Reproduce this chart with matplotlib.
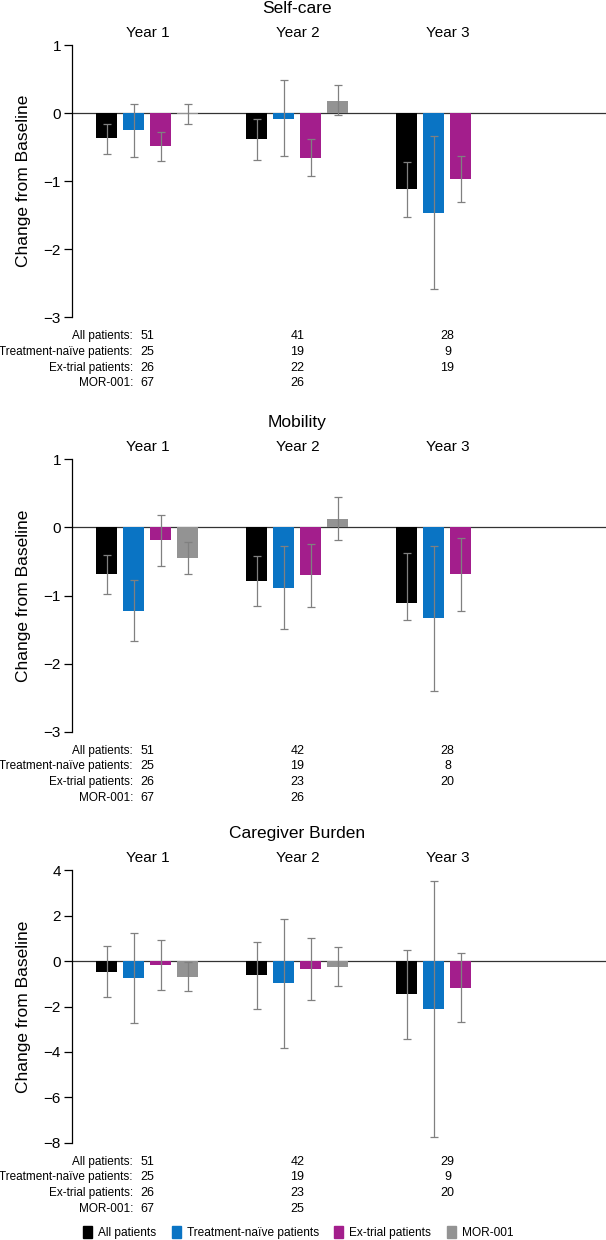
import numpy as np
import matplotlib
matplotlib.use("Agg")
import matplotlib.pyplot as plt
from matplotlib.patches import Patch

plt.rcParams["font.family"] = ["Liberation Sans", "DejaVu Sans"]

years = ["Year 1", "Year 2", "Year 3"]
series = ["All patients", "Treatment-naïve patients", "Ex-trial patients", "MOR-001"]
colors = ["#000000", "#0A74C4", "#A31E8C", "#939393"]
nan = np.nan

# self-care: mean change and CI per series (rows) x year (cols)
selfcare_mean = [[-0.37, -0.38, -1.12], [-0.25, -0.08, -1.47], [-0.49, -0.66, -0.97], [-0.01, 0.18, nan]]
selfcare_lo = [[-0.60, -0.69, -1.53], [-0.65, -0.63, -2.58], [-0.70, -0.92, -1.30], [-0.16, -0.03, nan]]
selfcare_hi = [[-0.16, -0.09, -0.72], [0.13, 0.48, -0.34], [-0.28, -0.38, -0.63], [0.14, 0.41, nan]]
selfcare_n = [[51, 41, 28], [25, 19, 9], [26, 22, 19], [67, 26, None]]

# mobility
mobility_mean = [[-0.69, -0.78, -1.11], [-1.22, -0.89, -1.33], [-0.18, -0.70, -0.69], [-0.45, 0.13, nan]]
mobility_lo = [[-0.98, -1.16, -1.36], [-1.67, -1.49, -2.40], [-0.56, -1.17, -1.23], [-0.69, -0.19, nan]]
mobility_hi = [[-0.40, -0.42, -0.38], [-0.77, -0.27, -0.27], [0.19, -0.24, -0.15], [-0.22, 0.45, nan]]
mobility_n = [[51, 42, 28], [25, 19, 8], [26, 23, 20], [67, 26, None]]

# caregiver burden
burden_mean = [[-0.47, -0.62, -1.46], [-0.74, -0.97, -2.10], [-0.18, -0.34, -1.19], [-0.69, -0.25, nan]]
burden_lo = [[-1.59, -2.10, -3.43], [-2.74, -3.84, -7.74], [-1.29, -1.71, -2.69], [-1.31, -1.10, nan]]
burden_hi = [[0.65, 0.84, 0.49], [1.25, 1.85, 3.53], [0.94, 1.03, 0.34], [-0.03, 0.62, nan]]
burden_n = [[51, 42, 29], [25, 19, 9], [26, 23, 20], [67, 25, None]]

panels = [
    ("Self-care", selfcare_mean, selfcare_lo, selfcare_hi, selfcare_n, [1, 0, -1, -2, -3]),
    ("Mobility", mobility_mean, mobility_lo, mobility_hi, mobility_n, [1, 0, -1, -2, -3]),
    ("Caregiver Burden", burden_mean, burden_lo, burden_hi, burden_n, [4, 2, 0, -2, -4, -6, -8]),
]

fig = plt.figure(figsize=(6.06, 12.4), dpi=100)
bottoms = [0.7441, 0.4099, 0.0785]
x = np.arange(len(years))
offsets = [-0.27, -0.09, 0.09, 0.27]
width = 0.14

for (title, mean, lo, hi, counts, yt), b in zip(panels, bottoms):
    ax = fig.add_axes([0.1188, b, 0.8812, 0.2196])
    for i in range(len(series)):
        m = np.array(mean[i], dtype=float)
        err = np.array([m - np.array(lo[i]), np.array(hi[i]) - m])
        ax.bar(x + offsets[i], m, width, color=colors[i], zorder=2)
        ax.errorbar(x + offsets[i], m, yerr=err, fmt="none", ecolor="#808080",
                    elinewidth=0.9, capsize=3, capthick=0.9, zorder=3)
    ax.axhline(0, color="#333333", lw=0.9, zorder=1)
    ax.set_xlim(-0.503, 3.057)
    ax.set_ylim(yt[-1], yt[0])
    ax.set_yticks(yt)
    ax.set_xticks([])
    for s in ["top", "right", "bottom"]:
        ax.spines[s].set_visible(False)
    ax.spines["left"].set_linewidth(0.9)
    ax.tick_params(axis="y", labelsize=11, length=6, width=0.9, pad=2)
    ax.set_ylabel("Change from Baseline", fontsize=12.5, va="center")
    ax.yaxis.set_label_coords(-0.09, 0.5)

    ax.annotate(title, xy=(1, 1), xycoords=("data", "axes fraction"),
                xytext=(0, 37), textcoords="offset pixels",
                ha="center", va="center", fontsize=12.5)
    for j, yr in enumerate(years):
        ax.annotate(yr, xy=(j, 1), xycoords=("data", "axes fraction"),
                    xytext=(0, 12), textcoords="offset pixels",
                    ha="center", va="center", fontsize=11)

    # patient counts under the axis
    for i, name in enumerate(series):
        dy = -19 - 15.7 * i
        ax.annotate(name + ":", xy=(-0.097, 0), xycoords=("data", "axes fraction"),
                    xytext=(0, dy), textcoords="offset pixels",
                    ha="right", va="center", fontsize=8.5, annotation_clip=False)
        for j in range(len(years)):
            n = counts[i][j]
            if n is None:
                continue
            ax.annotate(str(n), xy=(j, 0), xycoords=("data", "axes fraction"),
                        xytext=(0, dy), textcoords="offset pixels",
                        ha="center", va="center", fontsize=9, annotation_clip=False)

handles = [Patch(color=c) for c in colors]
fig.legend(handles, series, loc="lower center", bbox_to_anchor=(0.492, -0.008), ncol=4,
           frameon=False, fontsize=8.6, handlelength=0.75, handleheight=1.1,
           handletextpad=0.5, columnspacing=1.3)

fig.savefig("out.png", dpi=100)
